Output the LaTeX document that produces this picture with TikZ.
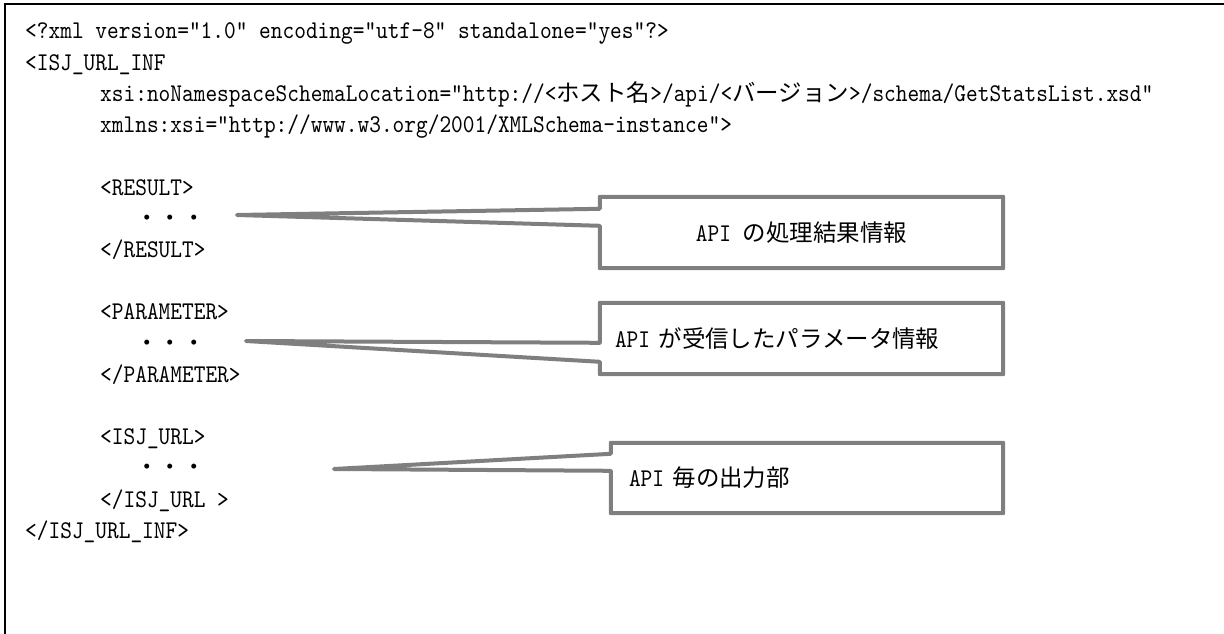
\documentclass[tikz,border=0pt]{standalone}
\usepackage{fontspec}
\usetikzlibrary{calc,backgrounds}
\newfontfamily\cjk{Noto Sans CJK JP}[Scale=0.92]
\newfontfamily\codefont{lmmono10-regular.otf}[FakeStretch=0.874]
\definecolor{calgray}{HTML}{7F7F7F}
\tikzset{
  code/.style={anchor=base west, inner sep=0pt, font=\fontsize{25.5}{30}\codefont},
  callout/.style={draw=calgray, line width=4pt, fill=white, line join=round, line cap=round},
  boxc/.style={inner sep=0pt, minimum width=403pt, font=\fontsize{25.5}{30}\codefont, align=center},
  boxl/.style={inner ysep=0pt, font=\fontsize{25.5}{30}\codefont, align=left},
}
\begin{document}
\begin{tikzpicture}[x=1pt,y=-1pt]
\useasboundingbox (0,0) rectangle (1224,634);
\draw[line width=2pt] (1224,4) -- (5,4) -- (5,634);

% code lines
\node[code] (l1) at (25,39) {<?xml version="1.0" encoding="utf-8" standalone="yes"?>};
\node[code] (l2) at (25,70.2) {<ISJ\_URL\_INF};
\node[code] (l3) at (100,101.4) {xsi:noNamespaceSchemaLocation="http://<{\cjk ホスト名}>/api/<{\cjk バージョン}>/schema/GetStatsList.xsd"};
\node[code] (l4) at (100,132.6) {xmlns:xsi="http://www.w3.org/2001/XMLSchema-instance">};
\node[code] (l6) at (100,195) {<RESULT>};
\node[code] (l7) at (135,226.2) {{\cjk ・・・}};
\node[code] (l8) at (100,257.4) {</RESULT>};
\node[code] (l10) at (100,319.8) {<PARAMETER>};
\node[code] (l11) at (135,351) {{\cjk ・・・}};
\node[code] (l12) at (100,382.2) {</PARAMETER>};
\node[code] (l14) at (100,444.6) {<ISJ\_URL>};
\node[code] (l15) at (135,475.8) {{\cjk ・・・}};
\node[code] (l16) at (100,507) {</ISJ\_URL >};
\node[code] (l17) at (25,538.2) {</ISJ\_URL\_INF>};

% callout boxes
\node[boxc, minimum height=71pt] (b1) at (801.5,232.5) {API {\cjk の処理結果情報}};
\node[boxl, inner xsep=15pt, text width=373pt, minimum height=71pt] (b2) at (801.5,338.5) {API {\cjk が受信したパラメータ情報}};
\node[boxl, inner xsep=18pt, text width=356pt, minimum height=70pt] (b3) at (807,478) {API {\cjk 毎の出力部}};

\coordinate (t1) at (237,215);
\coordinate (t2) at (246,341);
\coordinate (t3) at (334,469);

\begin{scope}[on background layer]
\draw[callout] (b1.north west) -- (b1.north east) -- (b1.south east) -- (b1.south west)
  -- ($(b1.north west)+(0,29)$) -- (t1) -- ($(b1.north west)+(0,12)$) -- cycle;
\draw[callout] (b2.north west) -- (b2.north east) -- (b2.south east) -- (b2.south west)
  -- ($(b2.north west)+(0,59)$) -- (t2) -- ($(b2.north west)+(0,40)$) -- cycle;
\draw[callout] (b3.north west) -- (b3.north east) -- (b3.south east) -- (b3.south west)
  -- ($(b3.north west)+(0,28)$) -- (t3) -- ($(b3.north west)+(0,11)$) -- cycle;
\end{scope}
\end{tikzpicture}
\end{document}
